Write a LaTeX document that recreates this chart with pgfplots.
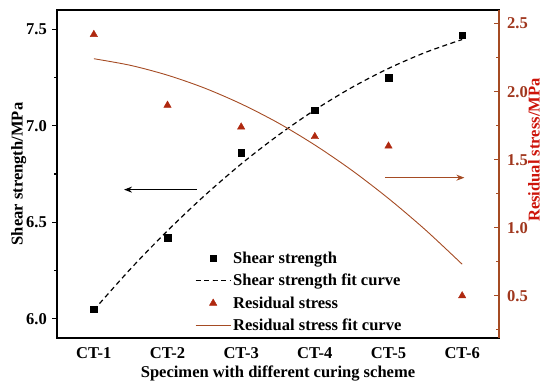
\documentclass[border=0pt]{standalone}
\usepackage{fontspec}
\setmainfont{Liberation Serif}
\usepackage{pgfplots}
\pgfplotsset{compat=1.18}
\usetikzlibrary{arrows.meta}
\definecolor{rsbrown}{RGB}{165,75,35}
\definecolor{rsred}{RGB}{205,20,10}
\definecolor{rstri}{RGB}{175,40,15}
\definecolor{rstick}{RGB}{160,55,30}
\newcommand{\lblfont}{\fontsize{16.6}{19}\selectfont\bfseries}
\pgfplotsset{
  markleg/.style={legend image code/.code={\draw[##1] plot[only marks] coordinates {(0.617cm,0cm)};}},
  lineleg/.style={legend image code/.code={\draw[##1] (0cm,0cm) -- (1.23cm,0cm);}},
}
\begin{document}
\begin{tikzpicture}
\begin{axis}[
  name=main,
  scale only axis, width=442bp, height=328bp,
  xmin=0.5, xmax=6.5, ymin=5.9, ymax=7.6,
  xtick={1,2,3,4,5,6},
  xticklabels={CT-1,CT-2,CT-3,CT-4,CT-5,CT-6},
  major x tick style={draw=none},
  ytick={6.0,6.5,7.0,7.5}, minor ytick={6.25,6.75,7.25},
  ytick pos=left, tick align=outside,
  major tick length=5bp, minor tick length=3bp,
  every tick/.style={line width=1.1pt, black},
  axis line style={line width=1.3pt},
  /pgf/number format/assume math mode=true,
  yticklabel={\pgfmathprintnumber[fixed,fixed zerofill,precision=1]{\tick}},
  tick label style={font=\lblfont},
  xticklabel style={anchor=north, inner sep=0pt, yshift=-4bp},
  yticklabel style={anchor=east, inner sep=0pt, xshift=-5bp},
  xlabel={Specimen with different curing scheme},
  xlabel style={at={(axis description cs:0.5,-0.107)}, anchor=center, font=\lblfont},
  ylabel={Shear strength/MPa},
  ylabel style={at={(axis description cs:-0.0865,0.5)}, anchor=center, rotate=0, font=\lblfont},
]
\addplot[black, line width=1.2pt, dash pattern=on 5bp off 3.5bp, smooth] coordinates {
  (1,6.045) (1.5,6.259) (2,6.456) (2.5,6.637) (3,6.802) (3.5,6.950)
  (4,7.082) (4.5,7.198) (5,7.297) (5.5,7.380) (6,7.447)};
\addplot[only marks, mark=square*, mark size=3.3, black] coordinates {
  (1,6.05) (2,6.42) (3,6.86) (4,7.08) (5,7.25) (6,7.47)};
\draw[-{Stealth[length=8bp,width=6bp]}, line width=1bp, black] (axis cs:2.40,6.669) -- (axis cs:1.41,6.669);
\end{axis}
\begin{axis}[
  scale only axis, width=442bp, height=328bp,
  xmin=0.5, xmax=6.5, ymin=0.19, ymax=2.6,
  axis x line=none, axis y line*=right,
  ytick={0.5,1.0,1.5,2.0,2.5}, minor ytick={0.25,0.75,1.25,1.75,2.25},
  tick align=inside,
  major tick length=5bp, minor tick length=3bp,
  every tick/.style={line width=1.1pt, rsbrown},
  y axis line style={line width=1.3pt, rsbrown},
  /pgf/number format/assume math mode=true,
  yticklabel={\pgfmathprintnumber[fixed,fixed zerofill,precision=1]{\tick}},
  yticklabel style={anchor=west, inner sep=0pt, xshift=8bp, rstick, font=\lblfont},
  ylabel={Residual stress/MPa},
  ylabel style={at={(axis description cs:1.0792,0.573)}, anchor=center, rotate=0, rsred, font=\lblfont},
  legend style={at={(axis description cs:0.312,0.27)}, anchor=north west, draw=none, fill=none,
    inner sep=0pt, row sep=5.5bp, font=\lblfont},
  legend cell align=left,
]
\addlegendimage{markleg, only marks, mark=square*, mark size=3.3, black}
\addlegendentry{Shear strength}
\addlegendimage{lineleg, black, line width=1.2pt, dash pattern=on 5bp off 3.5bp}
\addlegendentry{Shear strength fit curve}
\addlegendimage{markleg, only marks, mark=triangle*, mark size=4.3, rstri}
\addlegendentry{Residual stress}
\addlegendimage{lineleg, rsbrown, line width=1pt}
\addlegendentry{Residual stress fit curve}
\addplot[rsbrown, line width=0.9pt, smooth, forget plot] coordinates {
  (1,2.242) (1.5,2.193) (2,2.121) (2.5,2.027) (3,1.910) (3.5,1.771)
  (4,1.608) (4.5,1.423) (5,1.215) (5.5,0.985) (6,0.732)};
\addplot[only marks, mark=triangle*, mark size=4.3, rstri, forget plot] coordinates {
  (1,2.42) (2,1.90) (3,1.74) (4,1.67) (5,1.60) (6,0.50)};
\draw[-{Stealth[length=8bp,width=6bp]}, line width=1bp, rsbrown] (axis cs:4.95,1.368) -- (axis cs:6.03,1.368);
\end{axis}
\pgfresetboundingbox
\path ([shift={(-57bp,-46bp)}]main.south west) rectangle ([shift={(493bp,338bp)}]main.south west);
\end{tikzpicture}
\end{document}
